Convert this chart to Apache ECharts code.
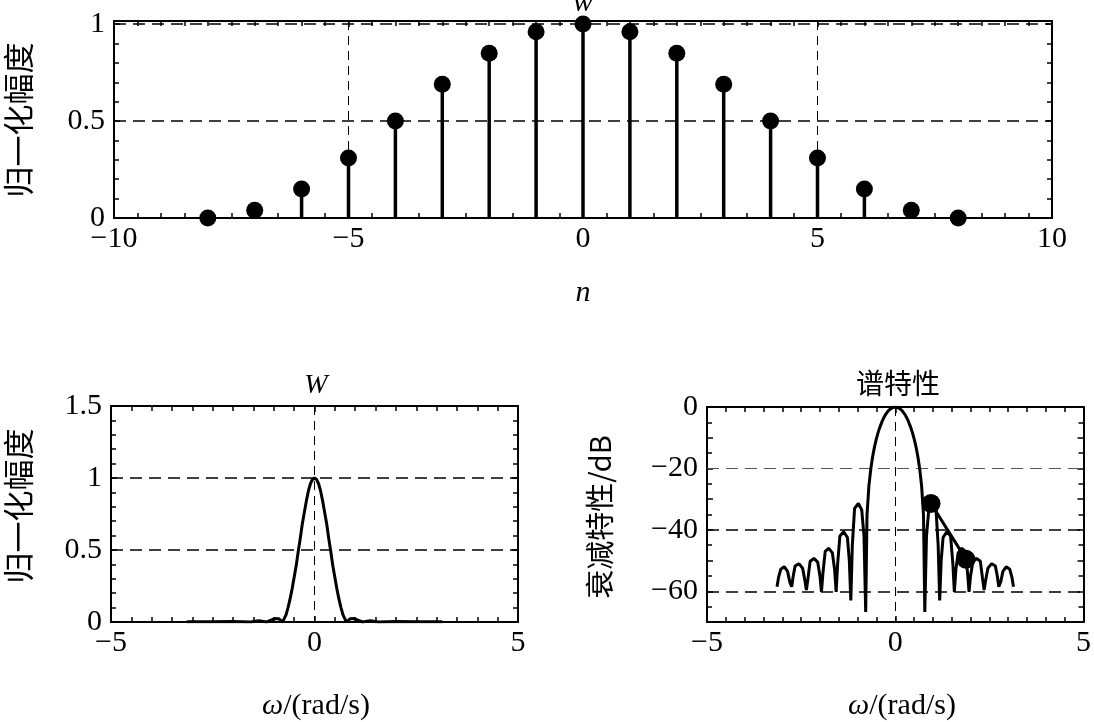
<!DOCTYPE html>
<html>
<head>
<meta charset="utf-8">
<script src="https://cdn.jsdelivr.net/npm/echarts@6/dist/echarts.min.js"></script>
<style>
html,body{margin:0;padding:0;background:#fff;}
#c{width:1094px;height:722px;}
</style>
</head>
<body>
<div id="c"></div>
<script>
// ---- data ----
const stemN = [-8,-7,-6,-5,-4,-3,-2,-1,0,1,2,3,4,5,6,7,8];
const stemW = [0,0.04,0.15,0.31,0.5,0.69,0.85,0.96,1.0,0.96,0.85,0.69,0.5,0.31,0.15,0.04,0];

const magOmega = [-3.14,-2.5,-2.0,-1.57,-1.37,-1.18,-1.08,-0.98,-0.88,-0.785,-0.75,-0.7,-0.65,-0.6,-0.55,-0.5,-0.45,-0.4,-0.35,-0.3,-0.25,-0.2,-0.15,-0.1,-0.05,0,
                  0.05,0.1,0.15,0.2,0.25,0.3,0.35,0.4,0.45,0.5,0.55,0.6,0.65,0.7,0.75,0.785,0.88,0.98,1.08,1.18,1.37,1.57,2.0,2.5,3.14];
const magVal   = [0.001,0.002,0.004,0,0.008,0,0.012,0.024,0.023,0,0.02,0.05,0.10,0.16,0.23,0.31,0.39,0.49,0.58,0.68,0.76,0.84,0.91,0.96,0.99,1.0,
                  0.99,0.96,0.91,0.84,0.76,0.68,0.58,0.49,0.39,0.31,0.23,0.16,0.10,0.05,0.02,0,0.023,0.024,0.012,0,0.008,0,0.004,0.002,0.001];

const dbOmega = [-3.14,-3.10,-3.04,-2.95,-2.86,-2.80,-2.75,-2.71,-2.66,-2.56,-2.46,-2.40,-2.36,-2.32,-2.26,-2.16,-2.06,-2.00,-1.96,-1.92,-1.86,-1.77,-1.67,-1.61,-1.57,-1.53,-1.47,-1.37,-1.27,-1.22,-1.18,-1.14,-1.08,-0.98,-0.89,-0.83,-0.785,-0.75,-0.70,-0.65,-0.60,-0.55,-0.50,-0.45,-0.40,-0.35,-0.30,-0.25,-0.20,-0.15,-0.10,-0.05,0,
                 0.05,0.10,0.15,0.20,0.25,0.30,0.35,0.40,0.45,0.50,0.55,0.60,0.65,0.70,0.75,0.785,0.83,0.89,0.98,1.08,1.14,1.18,1.22,1.27,1.37,1.47,1.53,1.57,1.61,1.67,1.77,1.86,1.92,1.96,2.00,2.06,2.16,2.26,2.32,2.36,2.40,2.46,2.56,2.66,2.71,2.75,2.80,2.86,2.95,3.04,3.10,3.14];
const dbVal   = [-58.5,-55.5,-52.8,-52.0,-53.5,-57.0,-58.5,-55.0,-51.8,-51.0,-52.5,-56.5,-59.6,-56.0,-50.2,-49.3,-50.5,-55.0,-60.2,-54.0,-47.0,-46.0,-47.5,-53.0,-60.2,-51.0,-42.0,-40.6,-42.5,-50.0,-63.0,-45.0,-33.0,-31.4,-33.5,-42.0,-66.7,-35.1,-25.7,-20.2,-16.1,-12.9,-10.3,-8.1,-6.3,-4.7,-3.4,-2.3,-1.5,-0.8,-0.4,-0.1,0,
                 -0.1,-0.4,-0.8,-1.5,-2.3,-3.4,-4.7,-6.3,-8.1,-10.3,-12.9,-16.1,-20.2,-25.7,-35.1,-66.7,-42.0,-33.5,-31.4,-33.0,-45.0,-63.0,-50.0,-42.5,-40.6,-42.0,-51.0,-60.2,-53.0,-47.5,-46.0,-47.0,-54.0,-60.2,-55.0,-50.5,-49.3,-50.2,-56.0,-59.6,-56.5,-52.5,-51.0,-51.8,-55.0,-58.5,-57.0,-53.5,-52.0,-52.8,-55.5,-58.5];

const slopeOmega = [0.95, 1.88];
const slopeDb = [-31.4, -49.6];

const topYLabels = [0, 0.5, 1];
const magYLabels = [0, 0.5, 1, 1.5];
const dbYLabels = [-60, -40, -20, 0];

// ---- helpers ----
const pair = (xs, ys) => xs.map((x, i) => [x, ys[i]]);
const serif = '"Liberation Serif","Times New Roman",serif';
const cjk = '"Noto Sans CJK SC",sans-serif';
const minus = v => String(v).replace('-', '\u2212');
const dash = [12, 7];

function xMain(grid, min, max, interval, minorSplit, showSplit) {
  return {
    type: 'value', gridIndex: grid, position: 'bottom', min, max, interval,
    axisLine: {show: true, onZero: false, lineStyle: {color: '#000', width: 2}},
    axisTick: {show: true, inside: true, length: 6, lineStyle: {color: '#000', width: 1.5}},
    minorTick: {show: true, splitNumber: minorSplit, length: 5, lineStyle: {color: '#000', width: 1.5}},
    axisLabel: {color: '#000', fontFamily: serif, fontSize: 30, margin: 6, formatter: v => minus(v)},
    splitLine: {show: showSplit, lineStyle: {type: [9, 6], color: '#000', width: 1}}
  };
}
function xTop(grid, min, max, interval, minorSplit) {
  return {
    type: 'value', gridIndex: grid, position: 'top', min, max, interval,
    axisLine: {show: true, onZero: false, lineStyle: {color: '#000', width: 2}},
    axisTick: {show: true, inside: true, length: 6, lineStyle: {color: '#000', width: 1.5}},
    minorTick: {show: true, splitNumber: minorSplit, length: 5, lineStyle: {color: '#000', width: 1.5}},
    axisLabel: {show: false}, splitLine: {show: false}
  };
}
function yMain(grid, min, max, interval, minorSplit, labels, showSplit) {
  return {
    type: 'value', gridIndex: grid, position: 'left', min, max, interval,
    axisLine: {show: true, onZero: false, lineStyle: {color: '#000', width: 2}},
    axisTick: {show: true, inside: true, length: 6, lineStyle: {color: '#000', width: 1.5}},
    minorTick: {show: true, splitNumber: minorSplit, length: 5, lineStyle: {color: '#000', width: 1.5}},
    axisLabel: {color: '#000', fontFamily: serif, fontSize: 30, margin: 9,
      formatter: v => labels.some(l => Math.abs(l - v) < 1e-6) ? minus(Math.round(v * 100) / 100) : ''},
    splitLine: {show: showSplit, lineStyle: {type: dash, color: '#000', width: 1.5}}
  };
}
function yRight(grid, min, max, interval, minorSplit) {
  return {
    type: 'value', gridIndex: grid, position: 'right', min, max, interval,
    axisLine: {show: true, onZero: false, lineStyle: {color: '#000', width: 2}},
    axisTick: {show: true, inside: true, length: 6, lineStyle: {color: '#000', width: 1.5}},
    minorTick: {show: true, splitNumber: minorSplit, length: 5, lineStyle: {color: '#000', width: 1.5}},
    axisLabel: {show: false}, splitLine: {show: false}
  };
}

const chart = echarts.init(document.getElementById('c'), null, {renderer: 'canvas'});

const option = {
  backgroundColor: '#fff',
  animation: false,
  grid: [
    {left: 114, top: 21, width: 938, height: 197},
    {left: 111, top: 406, width: 407, height: 216},
    {left: 707, top: 407, width: 383, height: 215}
  ],
  xAxis: [
    xMain(0, -10, 10, 5, 10, true), xTop(0, -10, 10, 5, 10),
    xMain(1, -5, 5, 5, 10, true), xTop(1, -5, 5, 5, 10),
    xMain(2, -5, 5, 5, 10, true), xTop(2, -5, 5, 5, 10)
  ],
  yAxis: [
    yMain(0, 0, 1.016, 0.5, 5, topYLabels, true), yRight(0, 0, 1.016, 0.5, 5),
    yMain(1, 0, 1.5, 0.5, 5, magYLabels, true), yRight(1, 0, 1.5, 0.5, 5),
    yMain(2, -70, 0, 10, 2, dbYLabels, false), yRight(2, -70, 0, 10, 2)
  ],
  series: [
    {type: 'bar', xAxisIndex: 0, yAxisIndex: 0, barWidth: 3.5, itemStyle: {color: '#000'},
      data: pair(stemN, stemW), z: 3},
    {type: 'scatter', xAxisIndex: 0, yAxisIndex: 0, symbol: 'circle', symbolSize: 17,
      itemStyle: {color: '#000', opacity: 1}, data: pair(stemN, stemW), z: 4},
    {type: 'line', xAxisIndex: 2, yAxisIndex: 2, showSymbol: false, symbol: 'none',
      lineStyle: {color: '#000', width: 3}, data: pair(magOmega, magVal), z: 3},
    {type: 'line', xAxisIndex: 4, yAxisIndex: 4, showSymbol: false, symbol: 'none',
      lineStyle: {color: '#000', width: 3}, data: pair(dbOmega, dbVal), z: 3,
      markLine: {silent: true, symbol: 'none', label: {show: false}, z: 1,
        lineStyle: {type: dash, color: '#000', width: 1.5},
        data: [{yAxis: -20, lineStyle: {color: '#555', width: 1.2, type: dash}}, {yAxis: -40}, {yAxis: -60}]}},
    {type: 'line', xAxisIndex: 4, yAxisIndex: 4, symbol: 'circle', symbolSize: 19, showSymbol: true,
      itemStyle: {color: '#000', opacity: 1}, lineStyle: {color: '#000', width: 3},
      data: pair(slopeOmega, slopeDb), z: 4}
  ],
  graphic: [
    {type: 'text', x: 583, y: 3, style: {text: 'w', font: 'italic 30px ' + serif, fill: '#000', textAlign: 'center', textVerticalAlign: 'middle'}},
    {type: 'text', x: 583, y: 293, style: {text: 'n', font: 'italic 30px ' + serif, fill: '#000', textAlign: 'center', textVerticalAlign: 'middle'}},
    {type: 'text', x: 316, y: 386, style: {text: 'W', font: 'italic 28px ' + serif, fill: '#000', textAlign: 'center', textVerticalAlign: 'middle'}},
    {type: 'text', x: 898, y: 383, style: {text: '谱特性', font: '28px ' + cjk, fill: '#000', textAlign: 'center', textVerticalAlign: 'middle'}},
    {type: 'text', x: 316, y: 706, style: {text: '{i|ω}{r|/(rad/s)}', textAlign: 'center', textVerticalAlign: 'middle',
      rich: {i: {font: 'italic 30px ' + serif, fill: '#000'}, r: {font: '30px ' + serif, fill: '#000'}}}},
    {type: 'text', x: 902, y: 706, style: {text: '{i|ω}{r|/(rad/s)}', textAlign: 'center', textVerticalAlign: 'middle',
      rich: {i: {font: 'italic 30px ' + serif, fill: '#000'}, r: {font: '30px ' + serif, fill: '#000'}}}},
    {type: 'text', x: 18, y: 120, rotation: Math.PI / 2, style: {text: '归一化幅度', font: '31px ' + cjk, fill: '#000', textAlign: 'center', textVerticalAlign: 'middle'}},
    {type: 'text', x: 18, y: 506, rotation: Math.PI / 2, style: {text: '归一化幅度', font: '31px ' + cjk, fill: '#000', textAlign: 'center', textVerticalAlign: 'middle'}},
    {type: 'text', x: 600, y: 517, rotation: Math.PI / 2, style: {text: '衰减特性/dB', font: '29px ' + cjk, fill: '#000', textAlign: 'center', textVerticalAlign: 'middle'}}
  ]
};
chart.setOption(option);
</script>
</body>
</html>
